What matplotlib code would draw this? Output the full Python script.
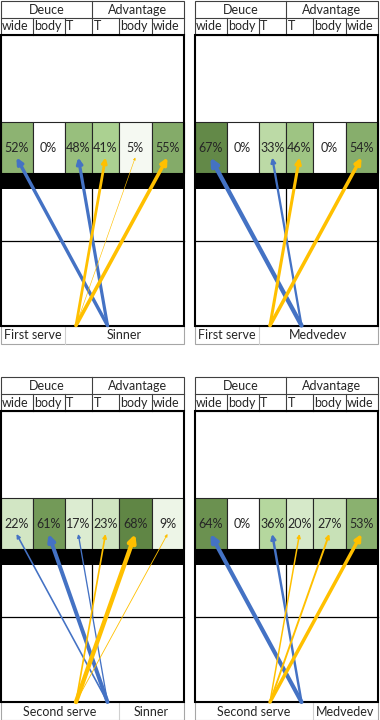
import numpy as np
import matplotlib
matplotlib.use('Agg')
import matplotlib.pyplot as plt
from matplotlib.patches import Rectangle, FancyArrowPatch
from matplotlib.colors import LinearSegmentedColormap

plt.rcParams['font.family'] = ['Lato', 'DejaVu Sans']

# data
sides = ['Deuce', 'Advantage']
zones = ['wide', 'body', 'T', 'T', 'body', 'wide']
players = ['Sinner', 'Medvedev', 'Sinner', 'Medvedev']
serves = ['First serve', 'First serve', 'Second serve', 'Second serve']
first_sinner = [52, 0, 48, 41, 5, 55]
first_medvedev = [67, 0, 33, 46, 0, 54]
second_sinner = [22, 61, 17, 23, 68, 9]
second_medvedev = [64, 0, 36, 20, 27, 53]
panels = [first_sinner, first_medvedev, second_sinner, second_medvedev]

# layout (pixels)
col_w = np.array([32, 32, 27.5, 27, 32.5, 32])
edges = np.concatenate([[0], np.cumsum(col_w)])
W = edges[-1]
mid = edges[3]
origins = [(0.5, 0.5), (194.5, 0.5), (0.5, 377), (194.5, 377)]

cmap = LinearSegmentedColormap.from_list(
    'greens', [(0, '#ffffff'), (0.6, '#a9d08e'), (1.0, '#5b8140')])
blue = '#4472c4'
gold = '#ffc000'
txt = '#262626'
fs = 9


def draw_panel(ax, x0, y0, pct, serve, player):
    # header table
    hc = '#404040'
    ax.add_patch(Rectangle((x0, y0), W, 34, fill=False, ec=hc, lw=0.8))
    ax.plot([x0, x0 + W], [y0 + 17] * 2, color=hc, lw=0.8)
    ax.plot([x0 + mid] * 2, [y0, y0 + 34], color=hc, lw=0.8)
    for i in [1, 2, 4, 5]:
        ax.plot([x0 + edges[i]] * 2, [y0 + 17, y0 + 34], color=hc, lw=0.8)
    ax.text(x0 + mid / 2, y0 + 9, sides[0], ha='center', va='center',
            fontsize=fs, color=txt)
    ax.text(x0 + (mid + W) / 2, y0 + 9, sides[1], ha='center', va='center',
            fontsize=fs, color=txt)
    for i, z in enumerate(zones):
        ax.text(x0 + edges[i] + 1.5, y0 + 26, z, ha='left', va='center',
                fontsize=fs, color=txt)

    # service zone cells
    for i, p in enumerate(pct):
        ax.add_patch(Rectangle((x0 + edges[i], y0 + 121), col_w[i], 51,
                               fc=cmap(p / 70), ec='#262626', lw=0.8))
        ax.text(x0 + edges[i] + col_w[i] / 2, y0 + 147, f'{p}%',
                ha='center', va='center', fontsize=fs, color=txt, zorder=6)

    # net + near side lines
    ax.add_patch(Rectangle((x0, y0 + 172), W, 16, fc='black', ec='none'))
    ax.plot([x0 + mid] * 2, [y0 + 188, y0 + 240], color='black', lw=0.9)
    ax.plot([x0, x0 + W], [y0 + 240] * 2, color='black', lw=0.9)
    ax.add_patch(Rectangle((x0, y0 + 34), W, 291, fill=False, ec='black',
                           lw=1.5, zorder=4))

    # bottom label row
    split = 2 if serve == 'First serve' else 4
    gc = '#a6a6a6'
    ax.add_patch(Rectangle((x0, y0 + 325), W, 18, fill=False, ec=gc, lw=0.8))
    ax.plot([x0 + edges[split]] * 2, [y0 + 325, y0 + 343], color='#d0d0d0',
            lw=0.8)
    ax.text(x0 + edges[split] / 2, y0 + 334.5, serve, ha='center',
            va='center', fontsize=fs, color=txt)
    ax.text(x0 + (edges[split] + W) / 2, y0 + 334.5, player, ha='center',
            va='center', fontsize=fs, color=txt)

    # serve arrows
    for i, p in enumerate(pct):
        if p == 0:
            continue
        if i < 3:
            ox, c = x0 + mid + 15.5, blue
        else:
            ox, c = x0 + mid - 16, gold
        lw = (0.3 + p * 0.06) * 0.72
        arr = FancyArrowPatch((ox, y0 + 325), (x0 + edges[i] + col_w[i] / 2, y0 + 157),
                              arrowstyle='-|>', mutation_scale=3 + p * 0.11,
                              lw=lw, color=c, shrinkA=0, shrinkB=0, zorder=5)
        ax.add_patch(arr)


fig = plt.figure(figsize=(3.8, 7.2), dpi=100)
ax = fig.add_axes([0, 0, 1, 1])
ax.set_xlim(0, 380)
ax.set_ylim(720, 0)
ax.axis('off')

for (x0, y0), pct, s, pl in zip(origins, panels, serves, players):
    draw_panel(ax, x0, y0, pct, s, pl)

fig.savefig('out.png', dpi=100)
